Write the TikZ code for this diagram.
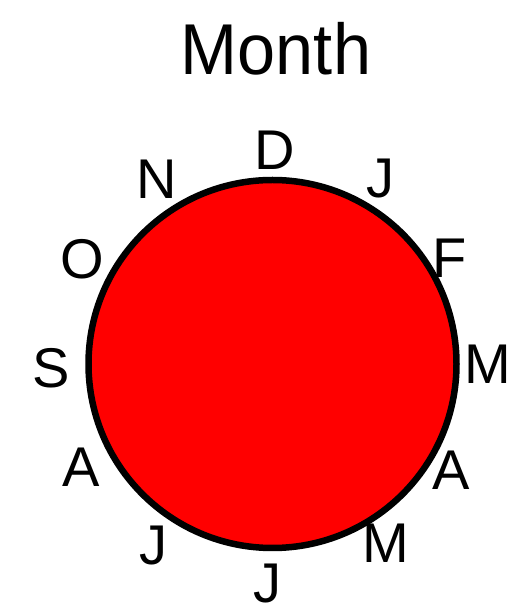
\documentclass[tikz,border=0pt]{standalone}
\usepackage{fontspec}
\setmainfont{Liberation Sans}
\begin{document}
\begin{tikzpicture}[x=1pt,y=1pt,
  lbl/.style={inner sep=0pt,font=\fontsize{56}{56}\selectfont},
  ttl/.style={inner sep=0pt,font=\fontsize{72}{72}\selectfont}]
\useasboundingbox (0,0) rectangle (530,616);
\node[ttl,xscale=0.95] (title) at (276,567.5) {Month};
\node[circle,draw=black,fill=red,line width=6.5pt,minimum size=368pt,inner sep=0pt] (clock) at (272.5,252) {};
\node[lbl] (dec) at (274.5,465.5) {D};
\node[lbl] (jan) at (380,437) {J};
\node[lbl] (feb) at (450,357.5) {F};
\node[lbl] (mar) at (487.5,252) {M};
\node[lbl] (apr) at (451,146) {A};
\node[lbl] (may) at (385.5,73) {M};
\node[lbl] (jun) at (267.5,32.5) {J};
\node[lbl] (jul) at (153,70.5) {J};
\node[lbl] (aug) at (81.5,149) {A};
\node[lbl] (sep) at (51,248) {S};
\node[lbl] (oct) at (82,356.5) {O};
\node[lbl] (nov) at (156.5,436.5) {N};
\end{tikzpicture}
\end{document}
